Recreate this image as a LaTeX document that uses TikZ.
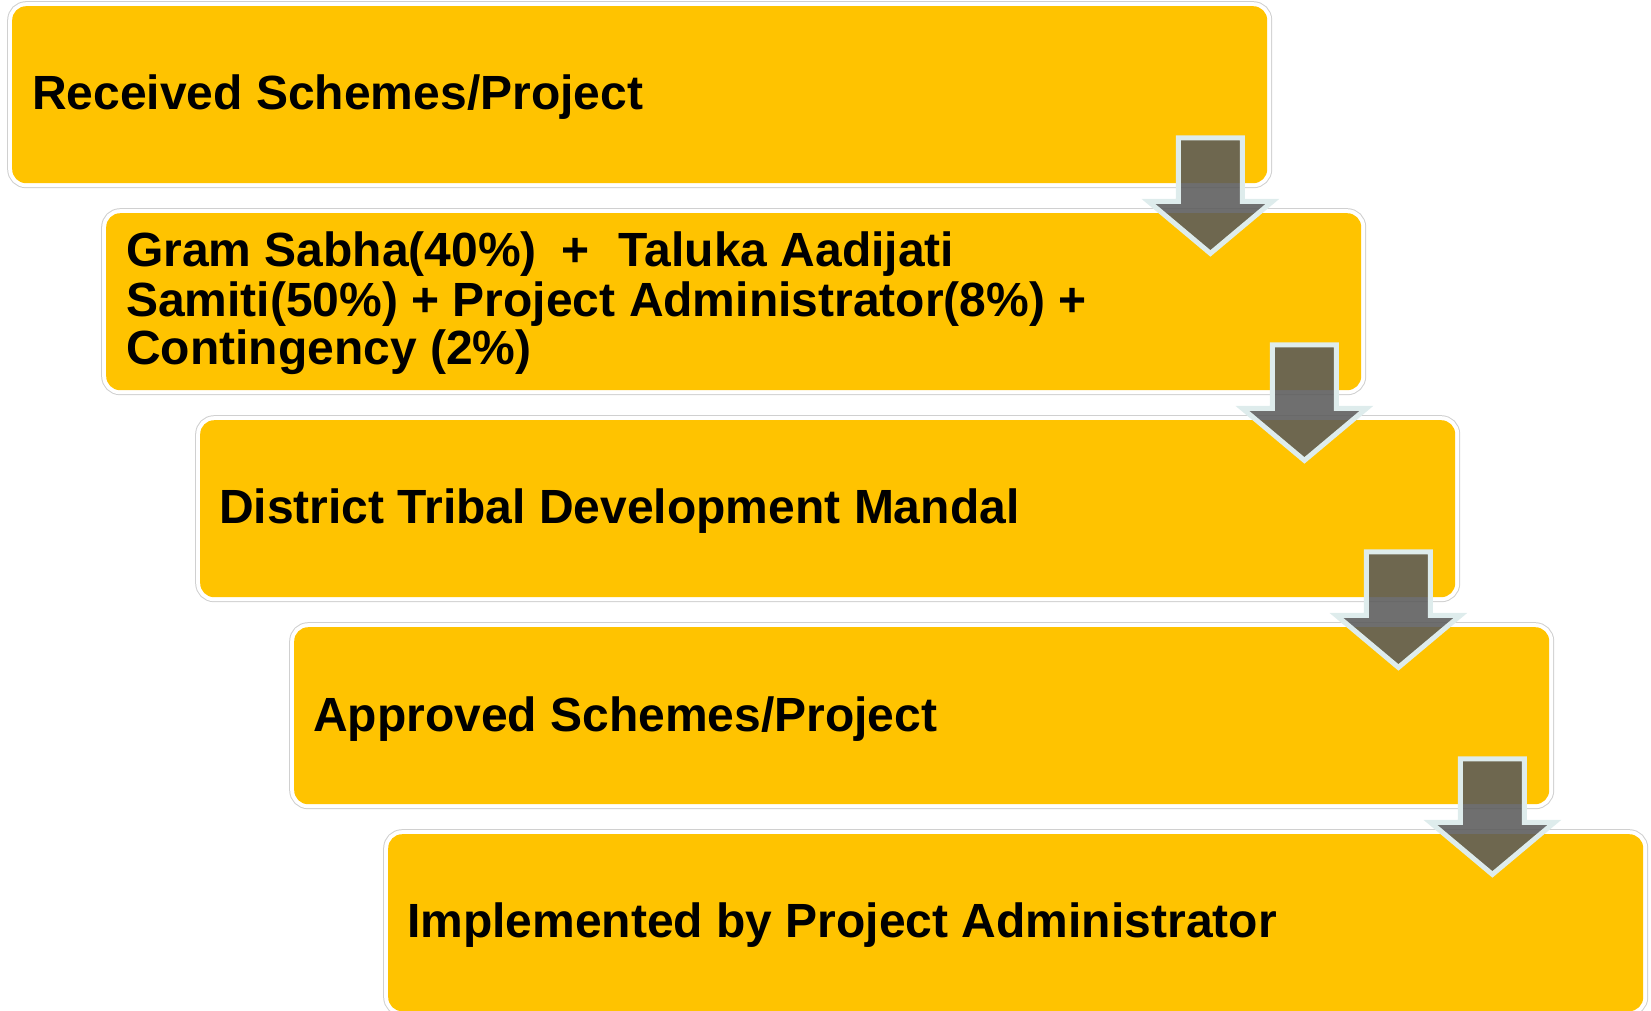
\documentclass[tikz,border=0pt]{standalone}
\usepackage{fontspec}
\setmainfont{Liberation Sans}
\usetikzlibrary{calc}
\definecolor{boxyellow}{RGB}{255,195,0}
\definecolor{ringgray}{RGB}{208,208,208}
\definecolor{arrowfill}{RGB}{91,91,91}
\definecolor{arrowedge}{RGB}{222,236,236}
\tikzset{
  stepbox/.style={anchor=north west, minimum width=1255pt, minimum height=177pt,
    inner sep=0pt, rounded corners=14pt, fill=boxyellow,
    preaction={draw=ringgray, line width=10pt},
    preaction={draw=white, line width=8pt}},
  lbl/.style={anchor=base west, inner sep=0pt, text=black,
    font=\fontsize{48}{49.5}\selectfont\bfseries},
  blockarrow/.style={fill=arrowfill, fill opacity=0.88, draw=arrowedge,
    draw opacity=1, line width=5pt, line join=miter}
}
\begin{document}
\begin{tikzpicture}[x=1pt,y=-1pt]
\useasboundingbox (0,0) rectangle (1651,1010);
% boxes
\node[stepbox] (b1) at (12,6) {};
\node[stepbox] (b2) at (106,213) {};
\node[stepbox] (b3) at (200,420) {};
\node[stepbox] (b4) at (294,627) {};
\node[stepbox] (b5) at (388,834) {};
% texts
\node[lbl] (t1) at (32,109) {Received Schemes/Project};
\node[lbl] (t2a) at (126,266) {Gram Sabha(40\%)\hspace{25pt}+\hspace{29pt}Taluka Aadijati};
\node[lbl] (t2b) at (126,316) {Samiti(50\%) + Project Administrator(8\%) +};
\node[lbl] (t2c) at (126,364) {Contingency (2\%)};
\node[lbl] (t3) at (219,523) {District Tribal Development Mandal};
\node[lbl] (t4) at (313,731) {Approved Schemes/Project};
\node[lbl] (t5) at (407,937) {Implemented by Project Administrator};
% arrows
\foreach \i in {1,2,3,4}{
  \coordinate (a\i) at ($(b\i.south east)+(-57,-45.5)$);
  \draw[blockarrow] (a\i) ++(-32,0) -- ++(64,0) -- ++(0,63.5) -- ++(30,0)
    -- ++(-62,52) -- ++(-62,-52) -- ++(30,0) -- cycle;
}
\end{tikzpicture}
\end{document}
